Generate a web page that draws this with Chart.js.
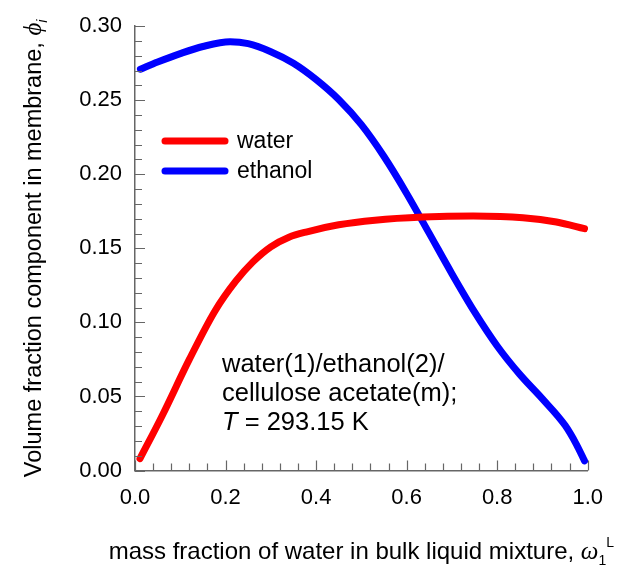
<!DOCTYPE html>
<html>
<head>
<meta charset="utf-8">
<script src="https://cdn.jsdelivr.net/npm/chart.js@4"></script>
<style>
  html, body { margin: 0; padding: 0; background: #fff; }
  #wadah { width: 617px; height: 568px; }
</style>
</head>
<body>
<div id="wadah"><canvas id="grafik"></canvas></div>
<script>
// data
const airX = [0.011, 0.06, 0.12, 0.177, 0.223, 0.26, 0.30, 0.34, 0.38, 0.45, 0.53, 0.636, 0.747, 0.857, 0.931, 0.993];
const airY = [0.008, 0.037, 0.075, 0.1079, 0.128, 0.1407, 0.1510, 0.1575, 0.1612, 0.1659, 0.1690, 0.1711, 0.1718, 0.1707, 0.1678, 0.1633];
const etanolX = [0.012, 0.05, 0.10, 0.15, 0.21, 0.25, 0.30, 0.35, 0.40, 0.45, 0.50, 0.55, 0.60, 0.65, 0.70, 0.75, 0.80, 0.85, 0.90, 0.95, 0.975, 0.993];
const etanolY = [0.271, 0.2758, 0.2815, 0.2863, 0.2895, 0.2882, 0.2828, 0.2750, 0.2640, 0.2505, 0.2335, 0.2120, 0.1871, 0.1601, 0.1329, 0.1071, 0.0841, 0.0649, 0.0484, 0.0305, 0.0177, 0.0065];
const labelSeri = ['water', 'ethanol'];
const warnaSeri = ['#ff0000', '#0000ff'];
const catatan = ['water(1)/ethanol(2)/', 'cellulose acetate(m);', 'T = 293.15 K'];

const WARNA_SUMBU = '#666666';
const FONT = "'Liberation Sans', Arial, sans-serif";
const SERIF = "'Liberation Serif', 'Times New Roman', serif";

function gabung(xs, ys) {
    return xs.map((x, i) => ({ x, y: ys[i] }));
}

// tick kecil ke dalam
const tickDalam = {
    id: 'tickDalam',
    afterDraw(chart) {
        const { ctx, scales: { x, y } } = chart;
        ctx.save();
        ctx.strokeStyle = WARNA_SUMBU;
        ctx.lineWidth = 1.2;
        ctx.beginPath();
        for (let i = 0; i <= 30; i++) {
            const py = Math.round(y.getPixelForValue(i / 100)) + 0.5;
            const pj = (i % 5 === 0) ? 10 : 7;
            ctx.moveTo(x.left, py);
            ctx.lineTo(x.left + pj, py);
        }
        for (let i = 0; i <= 25; i++) {
            const px = Math.round(x.getPixelForValue(i * 0.04)) + 0.5;
            const pj = (i % 5 === 0) ? 10 : 7;
            ctx.moveTo(px, y.bottom);
            ctx.lineTo(px, y.bottom - pj);
        }
        ctx.stroke();
        ctx.restore();
    }
};

function ukurBagian(ctx, bagian) {
    let w = 0;
    bagian.forEach(b => { ctx.font = b.font; w += ctx.measureText(b.teks).width; });
    return w;
}

function tulisBagian(ctx, bagian, x0, y0) {
    let x = x0;
    bagian.forEach(b => {
        ctx.font = b.font;
        ctx.fillText(b.teks, x, y0 + (b.dy || 0));
        x += ctx.measureText(b.teks).width;
    });
}

// judul sumbu, legenda, catatan
const hiasan = {
    id: 'hiasan',
    afterDraw(chart) {
        const { ctx, chartArea: ca } = chart;
        ctx.save();
        ctx.fillStyle = '#000';
        ctx.textBaseline = 'alphabetic';
        ctx.textAlign = 'left';

        const judulX = [
            { teks: 'mass fraction of water in bulk liquid mixture, ', font: `24px ${FONT}` },
            { teks: 'ω', font: `italic 25px ${SERIF}` },
            { teks: '1', font: `14px ${FONT}`, dy: 6 },
            { teks: 'L', font: `14px ${FONT}`, dy: -12 }
        ];
        const wX = ukurBagian(ctx, judulX);
        tulisBagian(ctx, judulX, (ca.left + ca.right) / 2 - wX / 2, 559);

        const judulY = [
            { teks: 'Volume fraction component in membrane, ', font: `23.5px ${FONT}` },
            { teks: 'ϕ', font: `italic 25px ${SERIF}` },
            { teks: 'i', font: `italic 14px ${FONT}`, dy: 6 }
        ];
        const wY = ukurBagian(ctx, judulY);
        ctx.save();
        ctx.translate(41, (ca.top + ca.bottom) / 2);
        ctx.rotate(-Math.PI / 2);
        tulisBagian(ctx, judulY, -wY / 2, 0);
        ctx.restore();

        // legenda
        chart.data.datasets.forEach((ds, i) => {
            const ly = 141 + i * 30;
            ctx.strokeStyle = ds.borderColor;
            ctx.lineWidth = 7;
            ctx.lineCap = 'round';
            ctx.beginPath();
            ctx.moveTo(165, ly);
            ctx.lineTo(225, ly);
            ctx.stroke();
            ctx.font = `23px ${FONT}`;
            ctx.textBaseline = 'middle';
            ctx.fillText(ds.label, 237, ly + 1);
        });

        // catatan
        ctx.textBaseline = 'alphabetic';
        const bx = 222;
        ctx.font = `25.5px ${FONT}`;
        ctx.fillText(catatan[0], bx, 372);
        ctx.fillText(catatan[1], bx, 401);
        const baris3 = [
            { teks: 'T', font: `italic 25.5px ${FONT}` },
            { teks: catatan[2].slice(1), font: `25.5px ${FONT}` }
        ];
        tulisBagian(ctx, baris3, bx, 430);
        ctx.restore();
    }
};

const datasetSeri = [gabung(airX, airY), gabung(etanolX, etanolY)].map((d, i) => ({
    label: labelSeri[i],
    data: d,
    borderColor: warnaSeri[i],
    backgroundColor: warnaSeri[i],
    borderWidth: 7,
    borderCapStyle: 'round',
    borderJoinStyle: 'round',
    pointRadius: 0,
    cubicInterpolationMode: 'monotone',
    clip: false
}));

new Chart(document.getElementById('grafik'), {
    type: 'line',
    data: { datasets: datasetSeri },
    options: {
        responsive: true,
        maintainAspectRatio: false,
        animation: false,
        layout: { padding: { left: 0, top: 19.5, right: 29, bottom: 0 } },
        plugins: {
            legend: { display: false },
            tooltip: { enabled: false }
        },
        scales: {
            x: {
                type: 'linear',
                min: 0,
                max: 1,
                afterFit: s => { s.height = 97.5; },
                grid: { drawOnChartArea: false, drawTicks: false },
                border: { display: true, color: WARNA_SUMBU, width: 1.5 },
                ticks: {
                    stepSize: 0.2,
                    padding: 14,
                    color: '#000',
                    font: { family: FONT, size: 22 },
                    callback: v => v.toFixed(1)
                }
            },
            y: {
                min: 0,
                max: 0.3,
                afterFit: s => { s.width = 135; },
                grid: { drawOnChartArea: false, drawTicks: false },
                border: { display: true, color: WARNA_SUMBU, width: 1.5 },
                ticks: {
                    stepSize: 0.05,
                    padding: 13,
                    color: '#000',
                    font: { family: FONT, size: 22 },
                    callback: v => v.toFixed(2)
                }
            }
        }
    },
    plugins: [tickDalam, hiasan]
});
</script>
</body>
</html>
